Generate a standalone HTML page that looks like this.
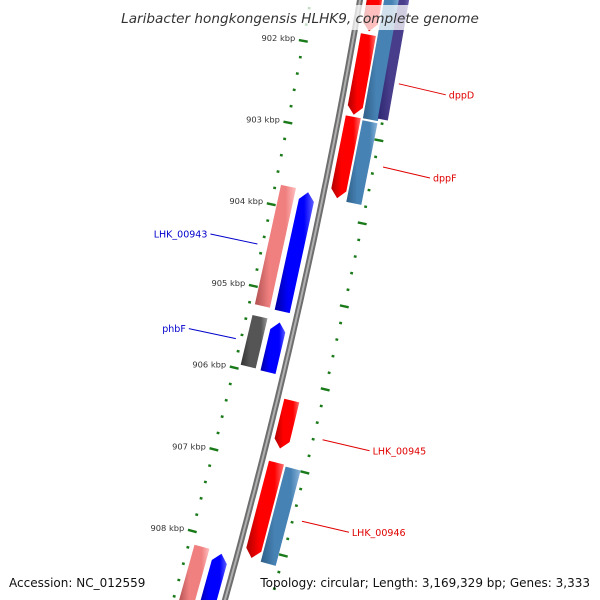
<!DOCTYPE html>
<html><head><meta charset="utf-8"><style>
html,body{margin:0;padding:0;background:#fff;width:600px;height:600px;overflow:hidden;}
svg{display:block;font-family:"DejaVu Sans","Liberation Sans",sans-serif;}
</style></head><body>
<svg id="map" width="600" height="600" viewBox="0 0 600 600" xmlns="http://www.w3.org/2000/svg">
<defs></defs>
<g id="rulers"></g>
<g id="backbone"></g>
<g id="genes"></g>
<g id="labels"></g>
<rect x="110" y="5" width="380" height="25" fill="#fff" fill-opacity="0.75"/>
<text x="300" y="23" text-anchor="middle" font-size="13.6" font-style="italic" fill="#333">Laribacter hongkongensis HLHK9, complete genome</text>
<text x="9" y="587" font-size="12" fill="#111">Accession: NC_012559</text>
<text x="590" y="587" text-anchor="end" font-size="12" fill="#111">Topology: circular; Length: 3,169,329 bp; Genes: 3,333</text>
</svg>
<script>
// gene data: start kbp, end kbp, track offset, strand, colour, name
const geneStarts = [901.245, 901.79, 902.785, 901.2, 902.805, 901.05, 906.22, 906.97, 906.99, 903.77, 903.75, 905.355, 905.34, 908.17, 908.15];
const geneEnds   = [901.75, 902.76, 903.77, 902.78, 903.79, 902.75, 906.80, 908.125, 908.14, 905.22, 905.21, 905.96, 905.95, 908.84, 908.87];
const geneTracks = [14, 14, 14, 31, 31, 43, 14, 14, 31, -15, -35, -15, -35, -15, -35];
const geneStrands = [1, 1, 1, 0, 0, 0, 1, 1, 0, -1, 0, -1, 0, -1, 0];
const geneColors = ["red","red","red","steelblue","steelblue","slate","red","red","steelblue","blue","pink","blue","gray","blue","pink"];
const geneNames = ["gene-top","dppD","dppF","gene-blue-top","gene-blue-dppF","gene-slate-top","LHK_00945","LHK_00946","gene-blue-946","LHK_00943","gene-pink-943","phbF","gene-gray-phbF","gene-blue-bottom","gene-pink-bottom"];
const labelTexts = ["dppD","dppF","LHK_00943","phbF","LHK_00945","LHK_00946"];
const labelKbp = [902.3, 903.3, 904.5, 905.66, 906.58, 907.56];
const labelSide = [1, 1, -1, -1, 1, 1];
const labelColors = ["#e00000","#e00000","#0000cc","#0000cc","#e00000","#e00000"];
const majorTicks = [902, 903, 904, 905, 906, 907, 908];
const tickLabels = ["902 kbp","903 kbp","904 kbp","905 kbp","906 kbp","907 kbp","908 kbp"];

const NS = "http://www.w3.org/2000/svg";
const A = 0.1711, B = 0.00009;
function bbx(y){ return 360 - A*y - B*y*y; }
function slope(y){ return A + 2*B*y; }
function kbpToY(p){ return 49.5 + (p - 902)*82.4; }
function pt(p, off){ const y0 = kbpToY(p); const s = slope(y0); return [bbx(y0) + off, y0 + s*off]; }
function mk(tag, attrs, parent){ const e = document.createElementNS(NS, tag); for (const k in attrs) e.setAttribute(k, attrs[k]); parent.appendChild(e); return e; }

const pal = {
  red:["#b00000","#ff0000","#ff7070"], steelblue:["#2f5f88","#4682b4","#8ab4d8"],
  slate:["#2e2770","#483d8b","#7a70c0"], blue:["#0000a0","#0000ff","#6060ff"],
  pink:["#b05050","#f08080","#ffc0c0"], gray:["#333","#555","#999"]
};
const defs = document.querySelector("defs");
for (const c in pal){
  const g = mk("linearGradient", {id:"g"+c, x1:"0", x2:"1", y1:"0", y2:"0"}, defs);
  mk("stop", {offset:"0", "stop-color":pal[c][0]}, g);
  mk("stop", {offset:"0.35", "stop-color":pal[c][1]}, g);
  mk("stop", {offset:"0.75", "stop-color":pal[c][1]}, g);
  mk("stop", {offset:"1", "stop-color":pal[c][2]}, g);
}

// backbone
const bbG = document.getElementById("backbone");
let d = "";
for (let y = -10; y <= 610; y += 10) d += (d ? "L" : "M") + bbx(y).toFixed(1) + "," + y + " ";
const bbLine = mk("path", {d:d, fill:"none", stroke:"#6e6e6e", "stroke-width":"6"}, bbG);


const bbHi = mk("path", {d:d, fill:"none", stroke:"#b0b0b0", "stroke-width":"2"}, bbG);



// rulers
const rG = document.getElementById("rulers");
function tick(p, off, major, name){
  const y0 = kbpToY(p), s = slope(y0);
  const [x, y] = pt(p, off);
  const len = major ? 4.5 : 1.4;
  const n = Math.sqrt(1 + s*s);
  const e = mk("line", {x1:x - len/n, y1:y - len*s/n, x2:x + len/n, y2:y + len*s/n, stroke:"#1a7a1a", "stroke-width":"2.4"}, rG);
  
  
}
for (let i = -12; i <= 38; i++){
  const p = 902 + i*0.2;
  const major = (i % 5 === 0);
  tick(p, -48, major, major ? "inner-major-tick" : "inner-minor-tick");
  tick(p, 43, major, major ? "outer-major-tick" : "outer-minor-tick");
}
majorTicks.forEach((p, i) => {
  const [x, y] = pt(p, -48);
  const t = mk("text", {x:(x - 8).toFixed(1), y:(y).toFixed(1), "text-anchor":"end", "font-size":"8.3", fill:"#333"}, rG);
  t.textContent = tickLabels[i];
  
  
});

// genes
const gG = document.getElementById("genes");
for (let i = 0; i < geneStarts.length; i++){
  const off = geneTracks[i], hw = off === 43 ? 5 : 7.5;
  const a = geneStarts[i], b = geneEnds[i], str = geneStrands[i];
  const head = 0.1;
  let pts;
  if (str === 1){
    pts = [pt(a, off-hw), pt(a, off+hw), pt(b-head, off+hw), pt(b, off), pt(b-head, off-hw)];
  } else if (str === -1){
    pts = [pt(a, off), pt(a+head, off+hw), pt(b, off+hw), pt(b, off-hw), pt(a+head, off-hw)];
  } else {
    pts = [pt(a, off-hw), pt(a, off+hw), pt(b, off+hw), pt(b, off-hw)];
  }
  const poly = mk("polygon", {points:pts.map(q => q[0].toFixed(1) + "," + q[1].toFixed(1)).join(" "), fill:"url(#g" + geneColors[i] + ")"}, gG);
  
  
}

// labels
const lG = document.getElementById("labels");
labelTexts.forEach((txt, i) => {
  const side = labelSide[i];
  const [x0, y0] = pt(labelKbp[i], side > 0 ? 52 : -53);
  const x1 = x0 + side*47, y1 = y0 + (side > 0 ? 11 : -10);
  const ln = mk("line", {x1:x0, y1:y0, x2:x1, y2:y1, stroke:labelColors[i], "stroke-width":"1"}, lG);
  
  
  const t = mk("text", {x:(x1 + side*3).toFixed(1), y:(y1 + 3.5).toFixed(1), "text-anchor":side > 0 ? "start" : "end", "font-size":"9.5", fill:labelColors[i]}, lG);
  t.textContent = txt;
  
  
});
</script>
</body></html>
